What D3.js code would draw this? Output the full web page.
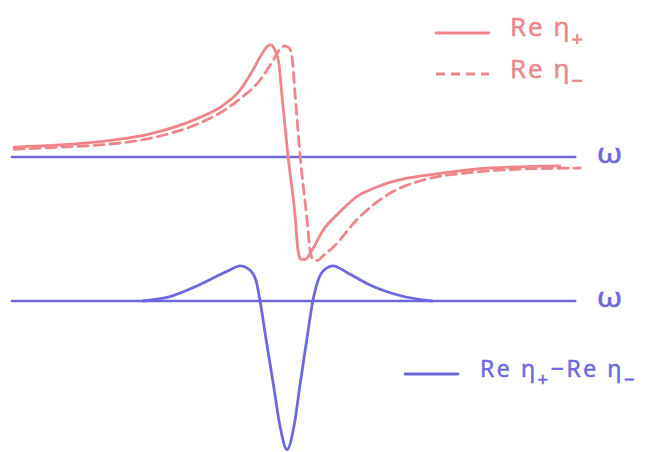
<!DOCTYPE html>
<html>
<head>
<meta charset="utf-8">
<script src="https://cdn.jsdelivr.net/npm/d3@7"></script>
<style>
  html, body { margin: 0; padding: 0; background: #fff; }
  svg { display: block; }
  text { font-family: "Open Sans", "Noto Sans", sans-serif; }
</style>
</head>
<body>
<svg id="chart" width="648" height="452"></svg>
<script>
// Frequency samples and real parts of the two response functions
const reEtaPlusW = [-4.96, -4.13, -3.40, -2.49, -1.58, -1.22, -0.85, -0.62, -0.44, -0.35, -0.29, -0.22, -0.15, -0.09, 0.02, 0.15, 0.20, 0.25, 0.33, 0.45, 0.65, 0.96, 1.27, 1.60, 1.87, 2.33, 2.78, 3.69, 4.96];
const reEtaPlus  = [0.09, 0.11, 0.14, 0.21, 0.36, 0.45, 0.61, 0.79, 0.95, 1.01, 1.02, 0.97, 0.86, 0.55, 0.00, -0.55, -0.85, -0.93, -0.93, -0.85, -0.67, -0.50, -0.36, -0.28, -0.23, -0.18, -0.15, -0.10, -0.08];

const reEtaMinusW = [-4.96, -4.13, -3.40, -2.49, -1.58, -1.22, -0.85, -0.49, -0.25, -0.13, -0.04, 0.04, 0.09, 0.15, 0.24, 0.36, 0.42, 0.47, 0.56, 0.65, 0.84, 1.27, 1.87, 2.47, 3.38, 4.24, 5.33];
const reEtaMinus  = [0.07, 0.09, 0.11, 0.17, 0.31, 0.40, 0.53, 0.70, 0.88, 0.98, 1.01, 0.99, 0.91, 0.55, 0.00, -0.55, -0.85, -0.93, -0.94, -0.90, -0.82, -0.57, -0.33, -0.21, -0.14, -0.11, -0.10];

// Difference Re η+ − Re η−
const diffW = [-2.62, -2.13, -1.58, -1.09, -0.85, -0.67, -0.56, -0.49, -0.38, -0.25, -0.13, 0.00, 0.13, 0.24, 0.36, 0.47, 0.56, 0.67, 0.84, 1.09, 1.45, 2.05, 2.64];
const diffValues = [0.00, 0.04, 0.15, 0.27, 0.32, 0.28, 0.18, 0.00, -0.35, -0.75, -1.13, -1.35, -1.13, -0.75, -0.35, 0.00, 0.18, 0.28, 0.32, 0.26, 0.16, 0.05, 0.00];

const axisRange = [-5.0, 5.24];
const axisLabel = "ω";

const RED = "#ef858b";
const BLUE = "#6e68e0";

const svg = d3.select("#chart");

const x = d3.scaleLinear().domain([-5, 5]).range([12, 562]);
const yTop = d3.scaleLinear().domain([-1, 1]).range([267, 47]);
const yBot = d3.scaleLinear().domain([-1, 1]).range([411, 191]);

function lineGen(yScale) {
  return d3.line()
    .x(d => x(d[0]))
    .y(d => yScale(d[1]))
    .curve(d3.curveMonotoneX);
}

// Upper panel: frequency axis
svg.append("line")
  .attr("x1", x(axisRange[0])).attr("x2", x(axisRange[1]))
  .attr("y1", yTop(0)).attr("y2", yTop(0))
  .attr("stroke", BLUE).attr("stroke-width", 2.6).attr("stroke-linecap", "round");

svg.append("text")
  .attr("x", 597).attr("y", yTop(0) + 6)
  .attr("fill", BLUE).attr("stroke", BLUE).attr("stroke-width", 0.6)
  .attr("font-size", 27)
  .attr("textLength", 25).attr("lengthAdjust", "spacingAndGlyphs")
  .text(axisLabel);

// Re η− (dashed)
svg.append("path")
  .datum(d3.zip(reEtaMinusW, reEtaMinus))
  .attr("d", lineGen(yTop))
  .attr("fill", "none").attr("stroke", RED).attr("stroke-width", 2.8)
  .attr("stroke-dasharray", "10,6").attr("stroke-linecap", "round");

// Re η+ (solid)
svg.append("path")
  .datum(d3.zip(reEtaPlusW, reEtaPlus))
  .attr("d", lineGen(yTop))
  .attr("fill", "none").attr("stroke", RED).attr("stroke-width", 2.8)
  .attr("stroke-linecap", "round").attr("stroke-linejoin", "round");

// Lower panel: frequency axis
svg.append("line")
  .attr("x1", x(axisRange[0])).attr("x2", x(axisRange[1]))
  .attr("y1", yBot(0)).attr("y2", yBot(0))
  .attr("stroke", BLUE).attr("stroke-width", 2.6).attr("stroke-linecap", "round");

svg.append("text")
  .attr("x", 597).attr("y", yBot(0) + 6)
  .attr("fill", BLUE).attr("stroke", BLUE).attr("stroke-width", 0.6)
  .attr("font-size", 27)
  .attr("textLength", 25).attr("lengthAdjust", "spacingAndGlyphs")
  .text(axisLabel);

// Difference curve
svg.append("path")
  .datum(d3.zip(diffW, diffValues))
  .attr("d", lineGen(yBot))
  .attr("fill", "none").attr("stroke", BLUE).attr("stroke-width", 2.8)
  .attr("stroke-linecap", "round").attr("stroke-linejoin", "round");

// Legend
const legend = [
  { y: 33, color: RED, dash: null, tx: 510, ty: 36, size: 26, ls: 2, parts: [["Re η", 0], ["+", 1]] },
  { y: 74, color: RED, dash: "9,6", tx: 510, ty: 78, size: 26, ls: 2, parts: [["Re η", 0], ["−", 1]] },
  { y: 374, color: BLUE, dash: null, tx: 480, ty: 377, size: 23, ls: 2.6, x1: 405, x2: 458,
    parts: [["Re η", 0], ["+", 1], ["−", 0], ["Re η", 0], ["−", 1]] }
];

legend.forEach(l => {
  svg.append("line")
    .attr("x1", l.x1 || 436).attr("x2", l.x2 || 489)
    .attr("y1", l.y).attr("y2", l.y)
    .attr("stroke", l.color).attr("stroke-width", 2.8)
    .attr("stroke-dasharray", l.dash)
    .attr("stroke-linecap", l.dash ? "butt" : "round");

  const t = svg.append("text")
    .attr("x", l.tx).attr("y", l.ty)
    .attr("fill", l.color).attr("stroke", l.color).attr("stroke-width", 0.6)
    .attr("font-size", l.size)
    .attr("letter-spacing", l.ls);
  let sub = 0;
  l.parts.forEach(([s, isSub]) => {
    const dy = (isSub - sub) * Math.round(l.size * 0.4);
    sub = isSub;
    t.append("tspan")
      .attr("dy", dy)
      .attr("font-size", isSub ? l.size * 0.8 : l.size)
      .text(s);
  });
});
</script>
</body>
</html>
